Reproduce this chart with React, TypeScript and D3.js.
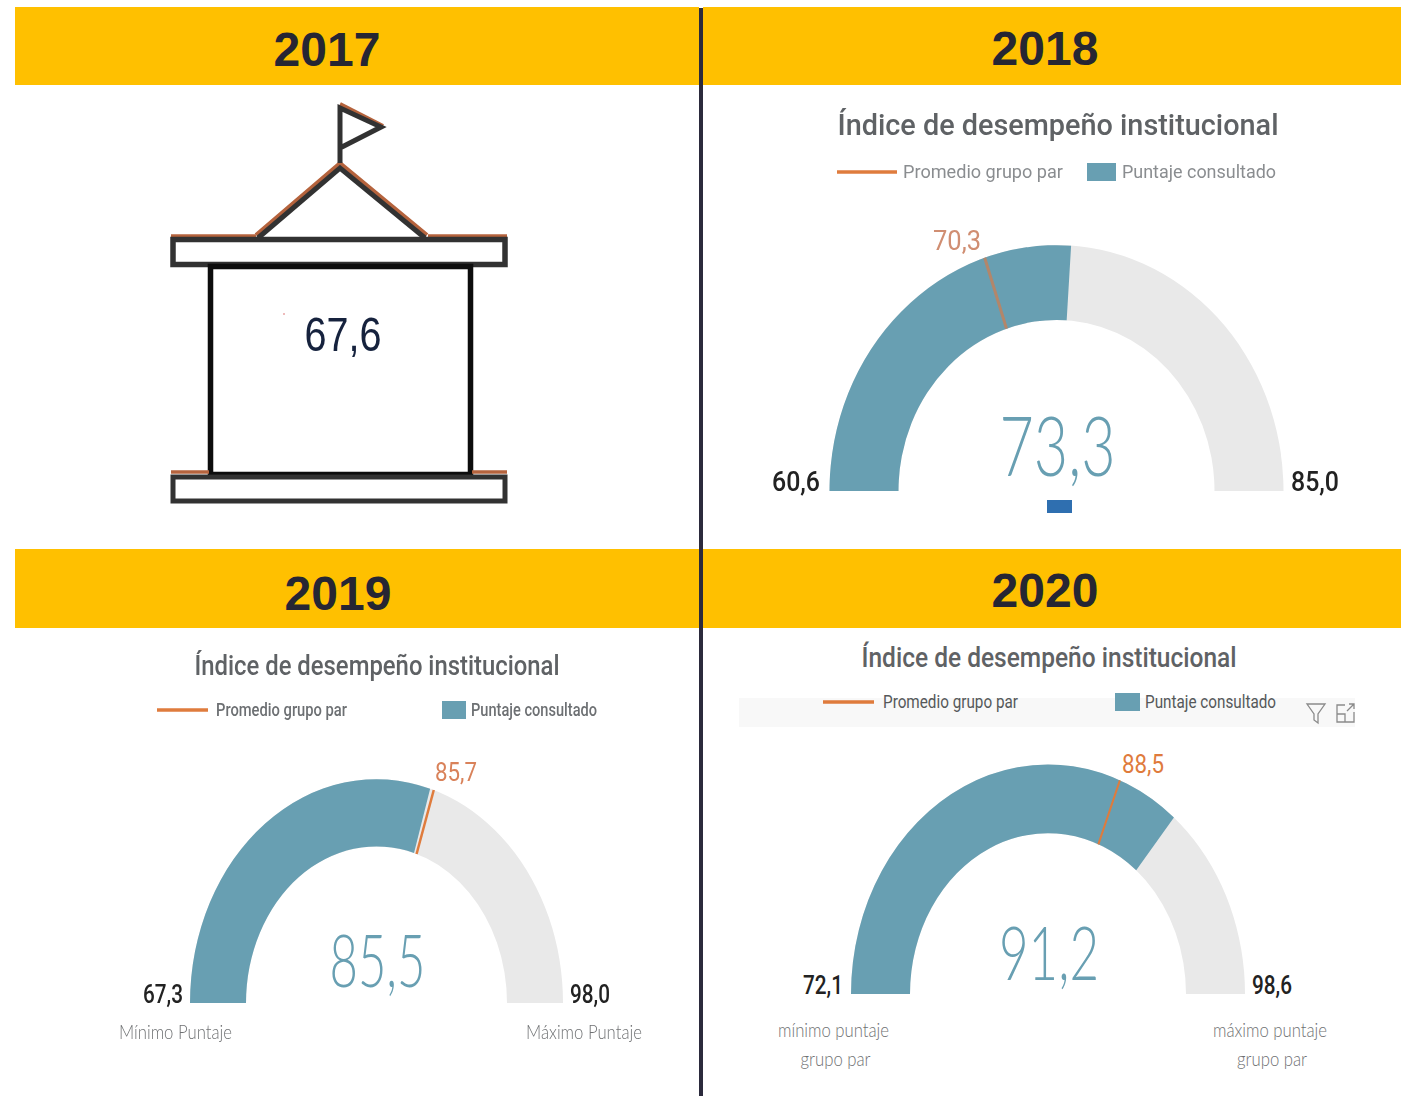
import React from "react";
import * as d3 from "d3";

const years = ["2017", "2018", "2019", "2020"];
const podiumValue = "67,6";
const gaugeMin = [60.6, 67.3, 72.1];
const gaugeMax = [85.0, 98.0, 98.6];
const gaugeValue = [73.3, 85.5, 91.2];
const gaugeAverage = [70.3, 85.7, 88.5];
const captionsMin = [[], ["Mínimo Puntaje"], ["mínimo puntaje", "grupo par"]];
const captionsMax = [[], ["Máximo Puntaje"], ["máximo puntaje", "grupo par"]];
const chartTitle = "Índice de desempeño institucional";
const legendLine = "Promedio grupo par";
const legendBox = "Puntaje consultado";

const TEAL = "#689fb2";
const GREY = "#e9e9e9";
const ORANGE = "#df7b3c";
const fmt = (v: number) => v.toFixed(1).replace(".", ",");

const layouts = [
  { cx: 1056.5, base: 491, ro: 227, ri: 158, k: 1.083, titleX: 1058, titleY: 135, titleW: 441, titleFs: 29,
    lx1: 837, lx2: 897, ly: 172, lt: 903, ltW: 160, bx: 1087, bw: 29, bh: 18, bt: 1122, btW: 154, legFs: 19, legW: 400,
    valY: 476, valW: 116, valFs: 82, avgX: 957, avgY: 250, avgFs: 27, avgW: 48, avgCol: "#d08e72", markCol: "#b3866a", markW: 3,
    minX: 820, maxX: 1291, edgeY: 491, edgeFs: 27, edgeW: 48, edgeWeight: 500,
    capY: [] as number[], capMinX: [] as number[], capMaxX: [] as number[], legCol: "#8a8d90", titleCol: "#5f6265", blur: "url(#blurStrong)" },
  { cx: 376.5, base: 1003, ro: 186.5, ri: 130.5, k: 1.2, titleX: 377, titleY: 675, titleW: 365, titleFs: 27,
    lx1: 157, lx2: 208, ly: 710, lt: 216, ltW: 131, bx: 442, bw: 24, bh: 18, bt: 471, btW: 126, legFs: 18, legW: 500,
    valY: 987, valW: 96, valFs: 72, avgX: 456, avgY: 781, avgFs: 26, avgW: 42, avgCol: "#d9825a", markCol: ORANGE, markW: 2.5,
    minX: 183, maxX: 570, edgeY: 1003, edgeFs: 26, edgeW: 40, edgeWeight: 500,
    capY: [1039], capMinX: [175.5], capMaxX: [584], legCol: "#6d7073", titleCol: "#5f6265", blur: "url(#blurSoft)" },
  { cx: 1048, base: 994, ro: 197, ri: 138, k: 1.165, titleX: 1049, titleY: 667, titleW: 375, titleFs: 28,
    lx1: 823, lx2: 874, ly: 702, lt: 883, ltW: 135, bx: 1115, bw: 25, bh: 18, bt: 1145, btW: 131, legFs: 18, legW: 400,
    valY: 980, valW: 100, valFs: 75, avgX: 1143, avgY: 773, avgFs: 26, avgW: 42, avgCol: ORANGE, markCol: ORANGE, markW: 2,
    minX: 843, maxX: 1252, edgeY: 994, edgeFs: 26, edgeW: 40, edgeWeight: 500,
    capY: [1037, 1066], capMinX: [833.5, 835.5], capMaxX: [1270, 1272], legCol: "#55585a", titleCol: "#5f6265", blur: undefined },
];

const banners = [
  { x: 15, y: 7, w: 684, h: 78, tx: 327, ty: 66 },
  { x: 703, y: 7, w: 698, h: 78, tx: 1045, ty: 65 },
  { x: 15, y: 549, w: 684, h: 79, tx: 338, ty: 610 },
  { x: 703, y: 549, w: 698, h: 79, tx: 1045, ty: 607 },
];

function Gauge({ i }: { i: number }) {
  const l = layouts[i];
  const angle = d3.scaleLinear().domain([gaugeMin[i], gaugeMax[i]]).range([-Math.PI / 2, Math.PI / 2]);
  const arc = d3.arc<{ a: number; b: number }>()
    .innerRadius(l.ri).outerRadius(l.ro)
    .startAngle((d) => d.a).endAngle((d) => d.b);
  const a = angle(gaugeAverage[i]);
  const px = (r: number) => l.cx + r * Math.sin(a);
  const py = (r: number) => l.base - l.k * r * Math.cos(a);
  return (
    <g fontFamily="Roboto, sans-serif" filter={l.blur}>
      <text x={l.titleX} y={l.titleY} textAnchor="middle" fontSize={l.titleFs} fontWeight={500} fill={l.titleCol}
        textLength={l.titleW} lengthAdjust="spacingAndGlyphs">{chartTitle}</text>
      <line x1={l.lx1} x2={l.lx2} y1={l.ly} y2={l.ly} stroke={ORANGE} strokeWidth={3.5} />
      <text x={l.lt} y={l.ly + 6} fontSize={l.legFs} fontWeight={l.legW} fill={l.legCol} textLength={l.ltW} lengthAdjust="spacingAndGlyphs">{legendLine}</text>
      <rect x={l.bx} y={l.ly - 9} width={l.bw} height={l.bh} fill={TEAL} />
      <text x={l.bt} y={l.ly + 6} fontSize={l.legFs} fontWeight={l.legW} fill={l.legCol} textLength={l.btW} lengthAdjust="spacingAndGlyphs">{legendBox}</text>
      <g transform={`translate(${l.cx},${l.base}) scale(1,${l.k})`}>
        <path d={arc({ a: -Math.PI / 2, b: Math.PI / 2 }) as string} fill={GREY} />
        <path d={arc({ a: -Math.PI / 2, b: angle(gaugeValue[i]) }) as string} fill={TEAL} />
      </g>
      <line x1={px(l.ri)} y1={py(l.ri)} x2={px(l.ro)} y2={py(l.ro)} stroke={l.markCol} strokeWidth={l.markW} />
      <text x={l.cx + 1} y={l.valY} textAnchor="middle" fontFamily="Lato, sans-serif" fontWeight={300} fontSize={l.valFs} fill={TEAL}
        textLength={l.valW} lengthAdjust="spacingAndGlyphs">{fmt(gaugeValue[i])}</text>
      <text x={l.avgX} y={l.avgY} textAnchor="middle" fontSize={l.avgFs} fill={l.avgCol}
        textLength={l.avgW} lengthAdjust="spacingAndGlyphs">{fmt(gaugeAverage[i])}</text>
      <text x={l.minX} y={l.edgeY} textAnchor="end" fontSize={l.edgeFs} fontWeight={l.edgeWeight} fill="#222"
        textLength={l.edgeW} lengthAdjust="spacingAndGlyphs">{fmt(gaugeMin[i])}</text>
      <text x={l.maxX} y={l.edgeY} textAnchor="start" fontSize={l.edgeFs} fontWeight={l.edgeWeight} fill="#222"
        textLength={l.edgeW} lengthAdjust="spacingAndGlyphs">{fmt(gaugeMax[i])}</text>
      {captionsMin[i].map((t, j) => (
        <text key={t} textAnchor="middle" transform={`translate(${l.capMinX[j]},${l.capY[j]}) scale(0.88,1)`} fontSize={19} fontFamily="Lato, sans-serif" fontWeight={300} fill="#6f7173">{t}</text>
      ))}
      {captionsMax[i].map((t, j) => (
        <text key={t} textAnchor="middle" transform={`translate(${l.capMaxX[j]},${l.capY[j]}) scale(0.88,1)`} fontSize={19} fontFamily="Lato, sans-serif" fontWeight={300} fill="#6f7173">{t}</text>
      ))}
    </g>
  );
}

function Podium() {
  const dark = "#333333";
  const rust = "#b5633c";
  return (
    <g fill="none" filter="url(#blurSoft)">
      <path d="M256 235 L340 163 L427 235" stroke={rust} strokeWidth={4} />
      <path d="M258 238 L340 168 L425 238" stroke={dark} strokeWidth={5} />
      <path d="M340 104 L383 126" stroke={rust} strokeWidth={4} />
      <path d="M340 163 V108 L381 127 L340 148" stroke={dark} strokeWidth={5} />
      <line x1={171} x2={256} y1={236} y2={236} stroke={rust} strokeWidth={3.5} />
      <line x1={428} x2={507} y1={236} y2={236} stroke={rust} strokeWidth={3.5} />
      <rect x={173} y={239.5} width={332} height={25} stroke={dark} strokeWidth={5.5} />
      <rect x={210.5} y={266.5} width={260} height={208} stroke="#0a0a0a" strokeWidth={5.5} />
      <line x1={171} x2={209} y1={472} y2={472} stroke={rust} strokeWidth={3.5} />
      <line x1={472} x2={507} y1={472} y2={472} stroke={rust} strokeWidth={3.5} />
      <rect x={173} y={477} width={332} height={24} stroke={dark} strokeWidth={5} />
      <rect x={283} y={313} width={2} height={2} fill="#eebbbb" stroke="none" />
      <text x={343} y={351} textAnchor="middle" fontFamily="'Liberation Sans', sans-serif" fontSize={48} fill="#14213d"
        stroke="none" textLength={77} lengthAdjust="spacingAndGlyphs">{podiumValue}</text>
    </g>
  );
}

export default function App() {
  return (
    <svg width={1410} height={1096} style={{ position: "absolute", left: 0, top: 0, background: "#fff" }}>
      <defs>
        <filter id="blurStrong" x="-5%" y="-5%" width="110%" height="110%"><feGaussianBlur stdDeviation="0.7" /></filter>
        <filter id="blurSoft" x="-5%" y="-5%" width="110%" height="110%"><feGaussianBlur stdDeviation="0.45" /></filter>
      </defs>
      {banners.map((b, i) => (
        <g key={years[i]}>
          <rect x={b.x} y={b.y} width={b.w} height={b.h} fill="#ffc000" />
          <text x={b.tx} y={b.ty} textAnchor="middle" fontFamily="'Liberation Sans', Arial, sans-serif" fontWeight={700} fontSize={48} fill="#262633">{years[i]}</text>
        </g>
      ))}
      <rect x={699} y={8} width={4} height={1088} fill="#2b2a3c" />
      <Podium />
      <rect x={739} y={698} width={616} height={29} fill="#f8f8f8" />
      <rect x={1047} y={500} width={25} height={13} fill="#2f6fb0" />
      {layouts.map((_, i) => <Gauge key={i} i={i} />)}
      <g fill="none" stroke="#8a8a8a" strokeWidth={1.3}>
        <path d="M1307 704 H1325 L1318 714 V723 L1314 720 V714 Z" />
        <path d="M1345 705 H1337 V722 H1354 V712 M1337 714 H1345 V722 M1347 711 L1354 704 M1349 704 H1354 V709" />
      </g>
    </svg>
  );
}
